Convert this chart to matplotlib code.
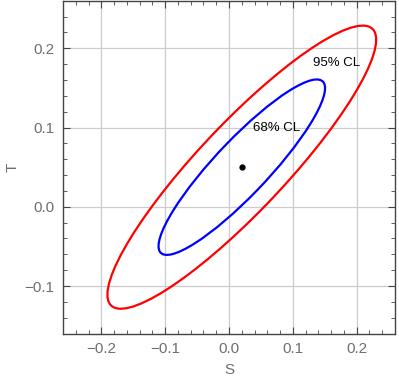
import numpy as np
import matplotlib
matplotlib.use("Agg")
import matplotlib.pyplot as plt
from matplotlib.patches import Ellipse
from matplotlib.ticker import MultipleLocator

# best-fit point and covariance
center = (0.02, 0.05)
sigma_s = 0.086
sigma_t = 0.073
rho = 0.90

# 2D chi-square levels and styling per contour
levels = [2.30, 5.99]
level_names = ["68% CL", "95% CL"]
level_colors = ["#0000ff", "#ff0000"]
label_pos = [(0.074, 0.099), (0.168, 0.181)]

xlim = (-0.26, 0.26)
ylim = (-0.16, 0.26)

GRAY_TEXT = "#6e6e6e"
FRAME = "#444444"

plt.rcParams["font.family"] = ["Liberation Sans", "DejaVu Sans"]

fig = plt.figure(figsize=(3.99, 3.83), dpi=100)
ax = fig.add_axes([0.158, 0.129, 0.832, 0.869])

cov = np.array([[sigma_s**2, rho * sigma_s * sigma_t],
                [rho * sigma_s * sigma_t, sigma_t**2]])
vals, vecs = np.linalg.eigh(cov)
angle = np.degrees(np.arctan2(vecs[1, 1], vecs[0, 1]))

for lvl, name, color, pos in zip(levels, level_names, level_colors, label_pos):
    w = 2 * np.sqrt(lvl * vals[1])
    h = 2 * np.sqrt(lvl * vals[0])
    ax.add_patch(Ellipse(center, w, h, angle=angle, fill=False,
                         edgecolor=color, lw=1.6, zorder=3))
    ax.text(pos[0], pos[1], name, fontsize=9.5, color="black",
            ha="center", va="center", zorder=4)

ax.plot([center[0]], [center[1]], "o", color="black", ms=3.5, zorder=5)

ax.set_xlim(*xlim)
ax.set_ylim(*ylim)
ax.xaxis.set_major_locator(MultipleLocator(0.1))
ax.xaxis.set_minor_locator(MultipleLocator(0.02))
ax.yaxis.set_major_locator(MultipleLocator(0.1))
ax.yaxis.set_minor_locator(MultipleLocator(0.02))
ax.grid(True, which="major", color="#cccccc", lw=0.9)
ax.set_axisbelow(True)

ax.tick_params(which="both", direction="in", top=True, right=True,
               colors=FRAME, labelcolor=GRAY_TEXT, labelsize=11, pad=6)
ax.tick_params(which="major", length=5, width=0.8)
ax.tick_params(which="minor", length=3, width=0.6)
for sp in ax.spines.values():
    sp.set_color(FRAME)
    sp.set_linewidth(1.0)

ax.set_xlabel("S", color=GRAY_TEXT, fontsize=11, labelpad=5)
ax.set_ylabel("T", color=GRAY_TEXT, fontsize=11, labelpad=4)

fig.savefig("out.png", dpi=100)
